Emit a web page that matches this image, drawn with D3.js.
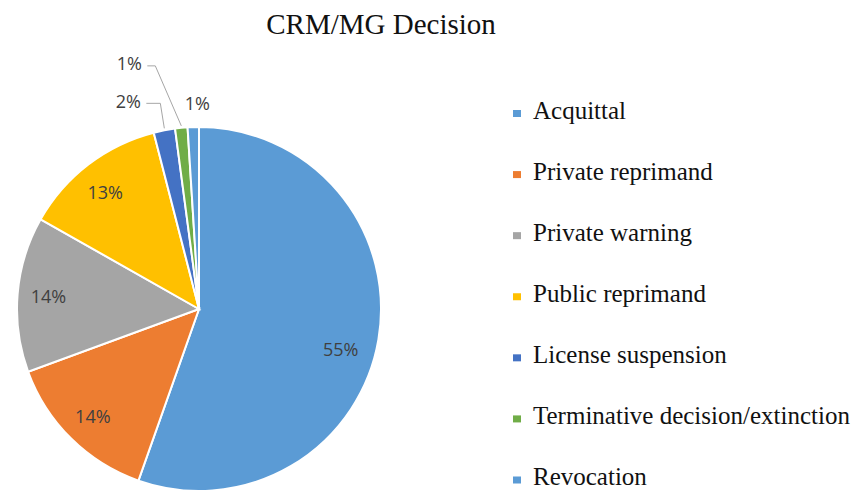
<!DOCTYPE html>
<html lang="en">
<head>
<meta charset="UTF-8" />
<title>CRM/MG Decision</title>
<script src="https://d3js.org/d3.v7.min.js"></script>
<style>
  body { margin: 0; background: #fff; }
  .leader { fill: none; stroke: #a6a6a6; stroke-width: 1; }
</style>
</head>
<body>
<script>
var width = 855, height = 491;

// data
var categories = ["Acquittal", "Private reprimand", "Private warning", "Public reprimand",
                  "License suspension", "Terminative decision/extinction", "Revocation"];
var values = [55.4, 14.0, 13.8, 12.8, 1.9, 1.1, 1.0];
var labels = ["55%", "14%", "14%", "13%", "2%", "1%", "1%"];
var colors = ["#5b9bd5", "#ed7d31", "#a5a5a5", "#ffc000", "#4472c4", "#70ad47", "#5b9bd5"];

var cx = 199, cy = 309, r = 182;
var serif = "'Liberation Serif', 'Times New Roman', serif";
var sans = "'Open Sans', 'Liberation Sans', sans-serif";

var svg = d3.select("body").append("svg").attr("width", width).attr("height", height);

svg.append("text")
  .attr("x", 381).attr("y", 34).attr("text-anchor", "middle")
  .style("font-family", serif).attr("font-size", 29).attr("fill", "#111")
  .text("CRM/MG Decision");

var data = categories.map(function(c, i) { return { name: c, value: values[i], label: labels[i], color: colors[i] }; });

var pie = d3.pie().sort(null).value(function(d) { return d.value; });
var arc = d3.arc().innerRadius(0).outerRadius(r);
var arcs = pie(data);

var g = svg.append("g").attr("transform", "translate(" + cx + "," + cy + ")");

g.selectAll("path").data(arcs).enter().append("path")
  .attr("d", arc)
  .attr("fill", function(d) { return d.data.color; })
  .attr("stroke", "#fff")
  .attr("stroke-width", 2);

// inside labels for big slices
var inArc = d3.arc().innerRadius(r * 0.83).outerRadius(r * 0.83);
g.selectAll("text.in").data(arcs.slice(0, 4)).enter().append("text")
  .style("font-family", sans).attr("font-size", 18).attr("fill", "#404040")
  .attr("text-anchor", "middle")
  .attr("dy", "0.35em")
  .attr("transform", function(d, i) {
    var c = inArc.centroid(d);
    if (i === 0) { // the big slice label sits a bit lower
      var a = (d.startAngle + d.endAngle) / 2 + 0.11;
      c = [Math.sin(a) * r * 0.81, -Math.cos(a) * r * 0.81];
    }
    if (i === 3) c = [c[0] - 2, c[1] + 4];
    return "translate(" + c + ")";
  })
  .text(function(d) { return d.data.label; });

// outside labels for small slices
var outOffsets = [
  { i: 4, tx: -36, ty: -29, elbow: -4 },
  { i: 5, tx: -52, ty: -64, elbow: -26 },
  { i: 6, tx: 4, ty: -23, elbow: null }
];
var edgeArc = d3.arc().innerRadius(r).outerRadius(r);
outOffsets.forEach(function(o) {
  var a = arcs[o.i];
  var p = edgeArc.centroid(a);
  var tx = p[0] + o.tx, ty = p[1] + o.ty;
  if (o.elbow !== null) {
    g.append("path").attr("class", "leader")
      .attr("d", d3.line()([[tx + 18, ty + 2], [p[0] + o.elbow, ty + 2], [p[0], p[1] - 2]]));
  }
  g.append("text")
    .style("font-family", sans).attr("font-size", 18).attr("fill", "#404040")
    .attr("x", tx).attr("y", ty).attr("dy", "0.35em")
    .attr("text-anchor", "middle")
    .text(a.data.label);
});

// legend
var legend = svg.append("g").attr("transform", "translate(513,0)");
var ly = d3.scalePoint().domain(categories).range([113.5, 480]);
var items = legend.selectAll("g").data(data).enter().append("g")
  .attr("transform", function(d) { return "translate(0," + ly(d.name) + ")"; });
items.append("rect").attr("x", 0).attr("y", -3.5).attr("width", 8).attr("height", 7)
  .attr("fill", function(d) { return d.color; });
items.append("text").attr("x", 20).attr("y", 5)
  .style("font-family", serif).attr("font-size", 25).attr("fill", "#111")
  .text(function(d) { return d.name; });
</script>
</body>
</html>
